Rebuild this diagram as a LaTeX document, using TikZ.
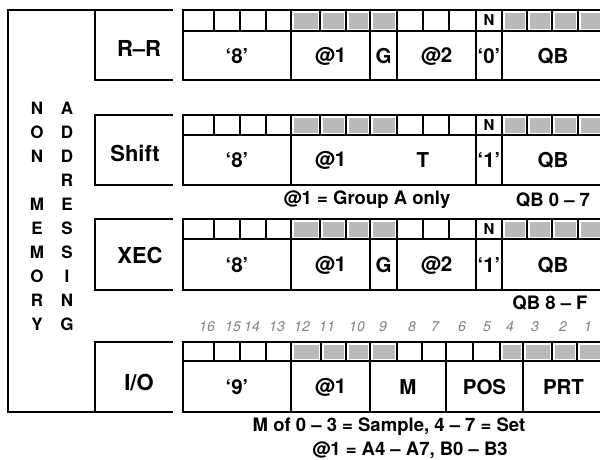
\documentclass[tikz,border=0pt]{standalone}
\usepackage{fontspec}
\setmainfont{TeX Gyre Heros}
\usepackage{tikz}
\usetikzlibrary{positioning}

\begin{document}
\begin{tikzpicture}[
    x=1pt, y=-1pt,
    frame/.style={line width=2.4pt, line cap=rect},
    cell/.style={line width=1.8pt},
    shade/.style={fill=black!27},
    kind/.style={font=\fontsize{22}{22}\selectfont\bfseries, inner sep=0pt},
    fieldlbl/.style={font=\fontsize{20.5}{20.5}\selectfont\bfseries, inner sep=0pt},
    bitlbl/.style={font=\fontsize{15}{15}\selectfont\bfseries, inner sep=0pt},
    vert/.style={font=\fontsize{17}{17}\selectfont\bfseries, inner sep=0pt},
    note/.style={font=\fontsize{18.5}{18.5}\selectfont\bfseries, inner sep=0pt},
    hand/.style={font=\fontsize{14}{14}\selectfont\itshape, text=black!50, inner sep=0pt}
]
\clip (0,0) rectangle (600,459);

% left bracket and the four kind boxes
\draw[frame] (172,10) -- (8,10) -- (8,412) -- (172,412);
\draw[frame] (95,10) -- (95,80) -- (172,80);
\draw[frame] (172,115) -- (95,115) -- (95,185) -- (172,185);
\draw[frame] (172,219) -- (95,219) -- (95,290) -- (172,290);
\draw[frame] (172,342) -- (95,342) -- (95,412);

\node[kind] (rr) at (139,48) {R–R};
\node[kind] (shift) at (135,153) {Shift};
\node[kind] (xec) at (140,255) {XEC};
\node[kind] (io) at (139,382) {I/O};

\foreach \c [count=\i from 0] in {N,O,N,{},M,E,M,O,R,Y}
    \node[vert] (nm\i) at (37,108+24*\i) {\c};
\foreach \c [count=\i from 0] in {A,D,D,R,E,S,S,I,N,G}
    \node[vert] (ad\i) at (67,108+24*\i) {\c};

% bit rows of R-R, Shift, XEC
\foreach \t/\m/\b in {10/31/80, 115/135/185, 219/239/290} {
    \foreach \l/\r in {291/320, 320/346, 346/370, 370/397, 502/527, 527/552, 552/578, 578/604}
        \fill[shade] (\l+2.5,\t+2.5) rectangle (\r-2.5,\m-2.5);
    \foreach \x in {214,240,266,320,346,370,397,423,449,527,552,578}
        \draw[cell] (\x,\t) -- (\x,\m);
    \draw[frame] (183,\t) rectangle (604,\b);
    \draw[frame] (183,\m) -- (604,\m);
    \foreach \x in {291,476,502}
        \draw[frame] (\x,\t) -- (\x,\b);
    \node[bitlbl] at (489,{(\t+\m)/2}) {N};
}

% R-R fields
\foreach \x in {370,397}
    \draw[frame] (\x,31) -- (\x,80);
\node[fieldlbl] (rr8) at (237,56) {‘8’};
\node[fieldlbl] (rrat1) at (330.5,56) {@1};
\node[fieldlbl] (rrg) at (383.5,56) {G};
\node[fieldlbl] (rrat2) at (436.5,56) {@2};
\node[fieldlbl] (rrzero) at (489,56) {‘0’};
\node[fieldlbl] (rrqb) at (553,56) {QB};

% Shift fields
\node[fieldlbl] (sh8) at (237,160) {‘8’};
\node[fieldlbl] (shat1) at (330.5,160) {@1};
\node[fieldlbl] (sht) at (423,160) {T};
\node[fieldlbl] (shone) at (489,160) {‘1’};
\node[fieldlbl] (shqb) at (553,160) {QB};
\node[note] (grpa) at (367,200) {@1 = Group A only};
\node[note] (qblo) at (553,200) {QB 0 – 7};

% XEC fields
\foreach \x in {370,397}
    \draw[frame] (\x,239) -- (\x,290);
\node[fieldlbl] (xe8) at (237,265) {‘8’};
\node[fieldlbl] (xeat1) at (330.5,265) {@1};
\node[fieldlbl] (xeg) at (383.5,265) {G};
\node[fieldlbl] (xeat2) at (436.5,265) {@2};
\node[fieldlbl] (xeone) at (489,265) {‘1’};
\node[fieldlbl] (xeqb) at (553,265) {QB};
\node[note] (qbhi) at (550,303) {QB 8 – F};

% I/O row
\foreach \x/\n in {207/16, 233/15, 252/14, 277/13, 302/12, 327/11, 357/10, 383/9,
                   412/8, 435/7, 462/6, 487/5, 510/4, 535/3, 563/2, 588/1}
    \node[hand] (bit\n) at (\x,327) {\n};
\foreach \l/\r in {291/321, 321/346, 346/370, 370/397, 500/523, 523/552, 552/577, 577/604}
    \fill[shade] (\l+2.5,344.5) rectangle (\r-2.5,358.5);
\foreach \x in {214,240,266,321,346,397,422,473,500,552,577}
    \draw[cell] (\x,342) -- (\x,361);
\draw[frame] (183,342) rectangle (604,412);
\draw[frame] (183,361) -- (604,361);
\foreach \x in {291,370,446,523}
    \draw[frame] (\x,342) -- (\x,412);
\node[fieldlbl] (io9) at (237,387) {‘9’};
\node[fieldlbl] (ioat1) at (330.5,387) {@1};
\node[fieldlbl] (iom) at (408,387) {M};
\node[fieldlbl] (iopos) at (484.5,387) {POS};
\node[fieldlbl] (ioprt) at (563.5,387) {PRT};
\node[note] (mode) at (389,427) {M of 0 – 3 = Sample, 4 – 7 = Set};
\node[note] (iogrp) at (410,450) {@1 = A4 – A7, B0 – B3};

\end{tikzpicture}
\end{document}
